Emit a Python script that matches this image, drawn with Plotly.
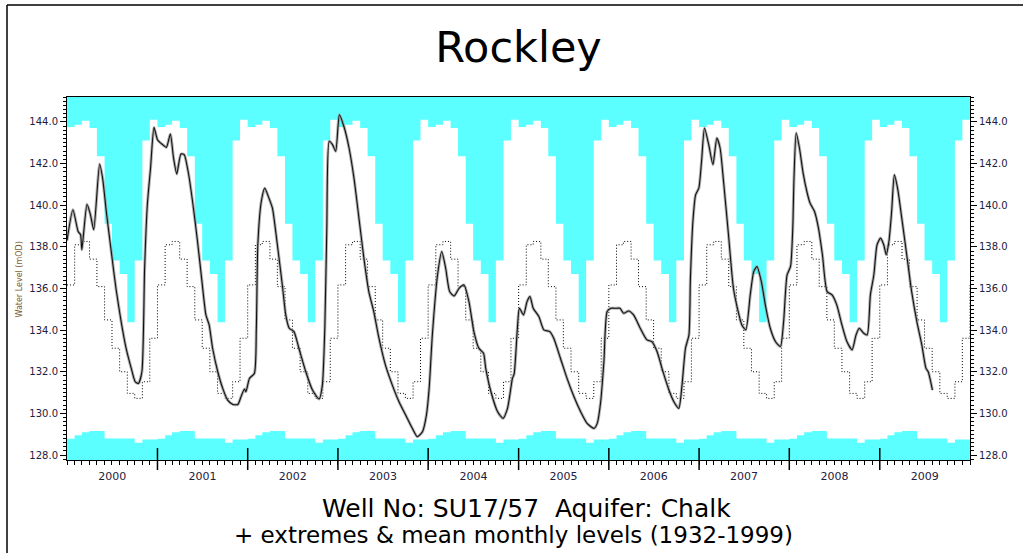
import plotly.graph_objects as go
import pandas as pd

# ---------------- data ----------------
years = list(range(2000, 2010))
year_labels = [str(y) for y in years]

# long-term monthly statistics (1932-1999), Jan..Dec
max_monthly = [143.76, 143.87, 144.06, 143.71, 142.35, 139.11, 137.34, 136.70, 134.38, 137.34, 143.11, 144.11]
min_monthly = [128.78, 128.95, 129.09, 129.15, 129.15, 128.79, 128.79, 128.79, 128.79, 128.59, 128.74, 128.74]
mean_monthly = [136.17, 138.10, 138.26, 137.41, 136.09, 134.49, 133.13, 132.00, 130.96, 130.72, 131.52, 133.61]

level_dates = [
    "2000-01-01", "2000-01-25", "2000-02-15", "2000-02-25", "2000-03-01", "2000-03-22", "2000-04-05",
    "2000-04-18", "2000-05-12", "2000-05-24", "2000-06-08", "2000-06-28", "2000-07-17", "2000-08-07",
    "2000-08-27", "2000-09-17", "2000-10-03", "2000-10-16", "2000-10-30", "2000-11-10", "2000-11-21",
    "2000-12-04", "2000-12-18", "2001-01-01", "2001-01-19", "2001-02-06", "2001-02-22", "2001-03-07",
    "2001-03-20", "2001-04-06", "2001-04-19", "2001-05-05", "2001-05-23", "2001-06-12", "2001-06-30",
    "2001-07-16", "2001-07-29", "2001-08-12", "2001-09-02", "2001-09-22", "2001-10-12", "2001-11-02",
    "2001-11-22", "2001-12-05", "2001-12-19", "2001-12-25", "2002-01-08", "2002-01-28", "2002-02-05",
    "2002-02-11", "2002-02-25", "2002-03-11", "2002-03-28", "2002-04-11", "2002-05-01", "2002-05-21",
    "2002-06-04", "2002-06-18", "2002-07-07", "2002-07-27", "2002-08-24", "2002-09-20", "2002-10-17",
    "2002-10-30", "2002-11-09", "2002-11-17", "2002-11-27", "2002-12-10", "2002-12-23", "2003-01-07",
    "2003-01-27", "2003-02-15", "2003-03-07", "2003-03-27", "2003-04-16", "2003-05-06", "2003-05-26",
    "2003-06-16", "2003-07-12", "2003-08-09", "2003-09-05", "2003-10-02", "2003-10-29", "2003-11-18",
    "2003-12-09", "2003-12-25", "2004-01-05", "2004-01-18", "2004-02-08", "2004-02-25", "2004-03-12",
    "2004-03-28", "2004-04-15", "2004-05-05", "2004-05-25", "2004-06-14", "2004-07-04", "2004-07-24",
    "2004-08-12", "2004-08-21", "2004-09-11", "2004-10-08", "2004-10-30", "2004-11-17", "2004-12-07",
    "2004-12-14", "2004-12-27", "2005-01-04", "2005-01-21", "2005-02-04", "2005-02-16", "2005-03-01",
    "2005-03-24", "2005-04-13", "2005-05-07", "2005-05-23", "2005-06-19", "2005-07-16", "2005-08-13",
    "2005-09-09", "2005-10-05", "2005-11-02", "2005-11-15", "2005-11-29", "2005-12-12", "2005-12-25",
    "2006-01-09", "2006-01-29", "2006-02-15", "2006-03-02", "2006-03-22", "2006-04-11", "2006-05-08",
    "2006-06-04", "2006-06-24", "2006-07-15", "2006-08-04", "2006-09-01", "2006-09-21", "2006-10-11",
    "2006-10-24", "2006-11-07", "2006-11-21", "2006-11-27", "2006-12-07", "2006-12-18", "2006-12-31",
    "2007-01-11", "2007-01-23", "2007-02-09", "2007-02-26", "2007-03-14", "2007-03-27", "2007-04-10",
    "2007-04-30", "2007-05-20", "2007-06-10", "2007-06-23", "2007-07-09", "2007-07-27", "2007-08-10",
    "2007-08-23", "2007-09-10", "2007-09-26", "2007-10-16", "2007-11-06", "2007-11-26", "2007-12-09",
    "2007-12-23", "2008-01-06", "2008-01-15", "2008-01-20", "2008-01-29", "2008-02-11", "2008-02-26",
    "2008-03-12", "2008-03-25", "2008-04-12", "2008-04-28", "2008-05-14", "2008-06-02", "2008-06-22",
    "2008-07-11", "2008-08-01", "2008-08-21", "2008-09-11", "2008-09-27", "2008-10-10", "2008-10-28",
    "2008-11-11", "2008-11-24", "2008-12-08", "2008-12-21", "2009-01-04", "2009-01-17", "2009-01-27",
    "2009-02-07", "2009-02-18", "2009-03-01", "2009-03-14", "2009-03-31", "2009-04-20", "2009-05-10",
    "2009-05-31", "2009-06-20", "2009-07-07", "2009-07-16", "2009-07-23", "2009-08-02",
]
level_values = [
    138.30, 139.78, 138.74, 138.58, 137.86, 140.05, 139.54,
    138.82, 141.98, 141.30, 139.70, 137.78, 136.01, 134.41,
    133.13, 132.16, 131.52, 131.44, 132.00, 136.98, 140.02,
    141.79, 143.74, 143.15, 142.94, 142.78, 143.42, 142.27,
    141.50, 142.46, 142.43, 141.62, 140.18, 138.26, 136.33,
    134.73, 134.25, 133.13, 132.00, 131.20, 130.64, 130.43,
    130.43, 130.80, 131.17, 131.04, 131.68, 131.92, 134.09,
    138.10, 140.18, 140.82, 140.34, 139.86, 138.10, 136.17,
    134.73, 134.09, 133.93, 133.13, 132.00, 131.12, 130.69,
    131.36, 134.09, 138.90, 143.07, 142.91, 142.59, 144.35,
    143.71, 142.75, 141.30, 139.38, 137.46, 135.85, 134.89,
    133.61, 132.33, 131.36, 130.56, 129.92, 129.28, 128.88,
    129.12, 129.92, 131.20, 133.77, 136.65, 137.78, 136.97,
    135.85, 135.64, 136.01, 136.17, 135.37, 133.93, 133.13,
    132.89, 132.16, 131.04, 130.08, 129.76, 130.24, 131.68,
    131.90, 134.09, 135.05, 134.73, 135.37, 135.61, 135.05,
    134.65, 134.01, 133.93, 133.61, 132.65, 131.68, 130.80,
    130.08, 129.52, 129.28, 129.52, 130.56, 132.49, 134.89,
    135.05, 135.05, 135.05, 134.81, 134.92, 134.73, 134.09,
    133.53, 133.45, 132.97, 132.16, 131.12, 130.56, 130.24,
    131.36, 133.13, 133.77, 136.49, 139.22, 140.50, 140.82,
    142.11, 143.71, 142.91, 141.95, 143.23, 142.75, 141.14,
    138.58, 136.01, 134.80, 134.25, 134.01, 135.69, 136.81,
    137.06, 136.33, 135.21, 134.09, 133.45, 133.21, 134.41,
    136.65, 137.06, 138.90, 141.30, 143.47, 142.75, 141.54,
    140.66, 140.10, 139.70, 138.90, 137.62, 135.85, 135.69,
    135.21, 134.25, 133.45, 133.05, 133.77, 134.09, 133.85,
    133.77, 135.69, 136.65, 138.10, 138.42, 138.10, 137.62,
    138.26, 139.70, 141.46, 140.82, 139.38, 137.62, 135.85,
    134.41, 133.29, 132.16, 132.00, 131.68, 131.12,
]

# ---------------- derived step series ----------------
month_starts = list(pd.date_range("2000-01-01", "2010-01-01", freq="MS"))
n_years = len(years)
max_steps = max_monthly * n_years + [max_monthly[0]]
min_steps = min_monthly * n_years + [min_monthly[0]]
mean_steps = mean_monthly * n_years + [mean_monthly[0]]

Y_RANGE = [127.76, 145.2]
CYAN = "#5CFFFF"
FONT = "DejaVu Sans"
TICK_COLOR = "#1e2040"

fig = go.Figure()

# upper cyan (above monthly max)
fig.add_trace(go.Scatter(x=month_starts, y=[Y_RANGE[1] + 5] * len(month_starts), mode="lines",
                         line=dict(width=0, shape="hv"), hoverinfo="skip", showlegend=False))
fig.add_trace(go.Scatter(x=month_starts, y=max_steps, mode="lines", fill="tonexty", fillcolor=CYAN,
                         line=dict(width=0, shape="hv", color=CYAN), showlegend=False, name="Max"))
# lower cyan (below monthly min)
fig.add_trace(go.Scatter(x=month_starts, y=min_steps, mode="lines", fill="tozeroy", fillcolor=CYAN,
                         line=dict(width=0, shape="hv", color=CYAN), showlegend=False, name="Min"))
# mean monthly (dotted)
fig.add_trace(go.Scatter(x=month_starts, y=mean_steps, mode="lines",
                         line=dict(width=1, shape="hv", color="black", dash="1px,2px"),
                         showlegend=False, name="Mean"))
# observed levels: grey halo + black line
fig.add_trace(go.Scatter(x=level_dates, y=level_values, mode="lines",
                         line=dict(width=3.0, color="rgba(150,150,150,0.75)", shape="spline", smoothing=0.6),
                         hoverinfo="skip", showlegend=False))
fig.add_trace(go.Scatter(x=level_dates, y=level_values, mode="lines",
                         line=dict(width=1.1, color="#111111", shape="spline", smoothing=0.6),
                         showlegend=False, name="Water level"))
# invisible trace for right axis
fig.add_trace(go.Scatter(x=[level_dates[0]], y=[level_values[0]], yaxis="y2", mode="markers",
                         marker=dict(opacity=0), hoverinfo="skip", showlegend=False))

L, R, T, B = 67, 53, 97, 93
W, H = 1023, 553
pw, ph = W - L - R, H - T - B

def px_x(X):
    return (X - L) / pw

def px_y(Y):
    return (H - B - Y) / ph

ytick_vals = [128, 130, 132, 134, 136, 138, 140, 142, 144]
yaxis_common = dict(
    range=Y_RANGE, tickvals=ytick_vals, tickformat=".1f", ticks="outside", ticklen=6,
    tickcolor="black", tickwidth=1, showgrid=False, zeroline=False,
    tickfont=dict(family=FONT, size=10, color=TICK_COLOR),
    minor=dict(dtick=0.2, tick0=128, ticks="outside", ticklen=3, tickcolor="black", showgrid=False),
)

fig.update_layout(
    width=W, height=H,
    margin=dict(l=L, r=R, t=T, b=B, autoexpand=False),
    paper_bgcolor="white", plot_bgcolor="white",
    title=dict(text="Rockley", x=0.5, xref="paper", xanchor="center", y=1 - 47 / H, yref="container",
               yanchor="middle", font=dict(family=FONT, size=43, color="black")),
    xaxis=dict(
        type="date", range=["2000-01-01", "2010-01-01"],
        tickvals=[f"{y}-07-02" for y in years], ticktext=year_labels,
        ticks="outside", ticklen=0, showgrid=False, zeroline=False,
        tickfont=dict(family=FONT, size=11, color=TICK_COLOR),
        showline=True, linecolor="black", linewidth=1, mirror=True,
        minor=dict(dtick="M1", tick0="2000-01-01", ticks="outside", ticklen=4, tickcolor="black",
                   showgrid=False),
        ticklabelstandoff=6,
    ),
    yaxis=dict(**yaxis_common, side="left", showline=True, linecolor="black", linewidth=1, mirror=True),
    yaxis2=dict(**yaxis_common, side="right", overlaying="y", showline=False),
)

# long year-boundary ticks crossing the x axis
for y in years[1:]:
    fig.add_shape(type="line", xref="x", yref="paper", x0=f"{y}-01-01", x1=f"{y}-01-01",
                  y0=px_y(470), y1=px_y(448), line=dict(color="black", width=1.5))

# outer frame (left and top edges of the original page)
fig.add_shape(type="line", xref="paper", yref="paper", x0=px_x(7), x1=px_x(7), y0=px_y(560), y1=px_y(5),
              line=dict(color="black", width=1.5))
fig.add_shape(type="line", xref="paper", yref="paper", x0=px_x(7), x1=px_x(1030), y0=px_y(5), y1=px_y(5),
              line=dict(color="black", width=1.5))

fig.add_annotation(text="Water Level (mOD)", xref="paper", yref="paper", x=px_x(12), y=px_y(280),
                   textangle=-90, showarrow=False, font=dict(family=FONT, size=8, color="#7a5a30"))
fig.add_annotation(text="Well No: SU17/57&nbsp;&nbsp;Aquifer: Chalk", xref="paper", yref="paper",
                   x=px_x(526), y=px_y(509), showarrow=False, xanchor="center", yanchor="middle",
                   font=dict(family=FONT, size=25, color="black"))
fig.add_annotation(text="+ extremes &amp; mean monthly levels (1932-1999)", xref="paper", yref="paper",
                   x=px_x(513), y=px_y(535), showarrow=False, xanchor="center", yanchor="middle",
                   font=dict(family=FONT, size=23, color="black"))

fig.write_html("out.html", config={"displayModeBar": False},
               post_script="document.body.style.margin='0';document.body.style.overflow='hidden';")
